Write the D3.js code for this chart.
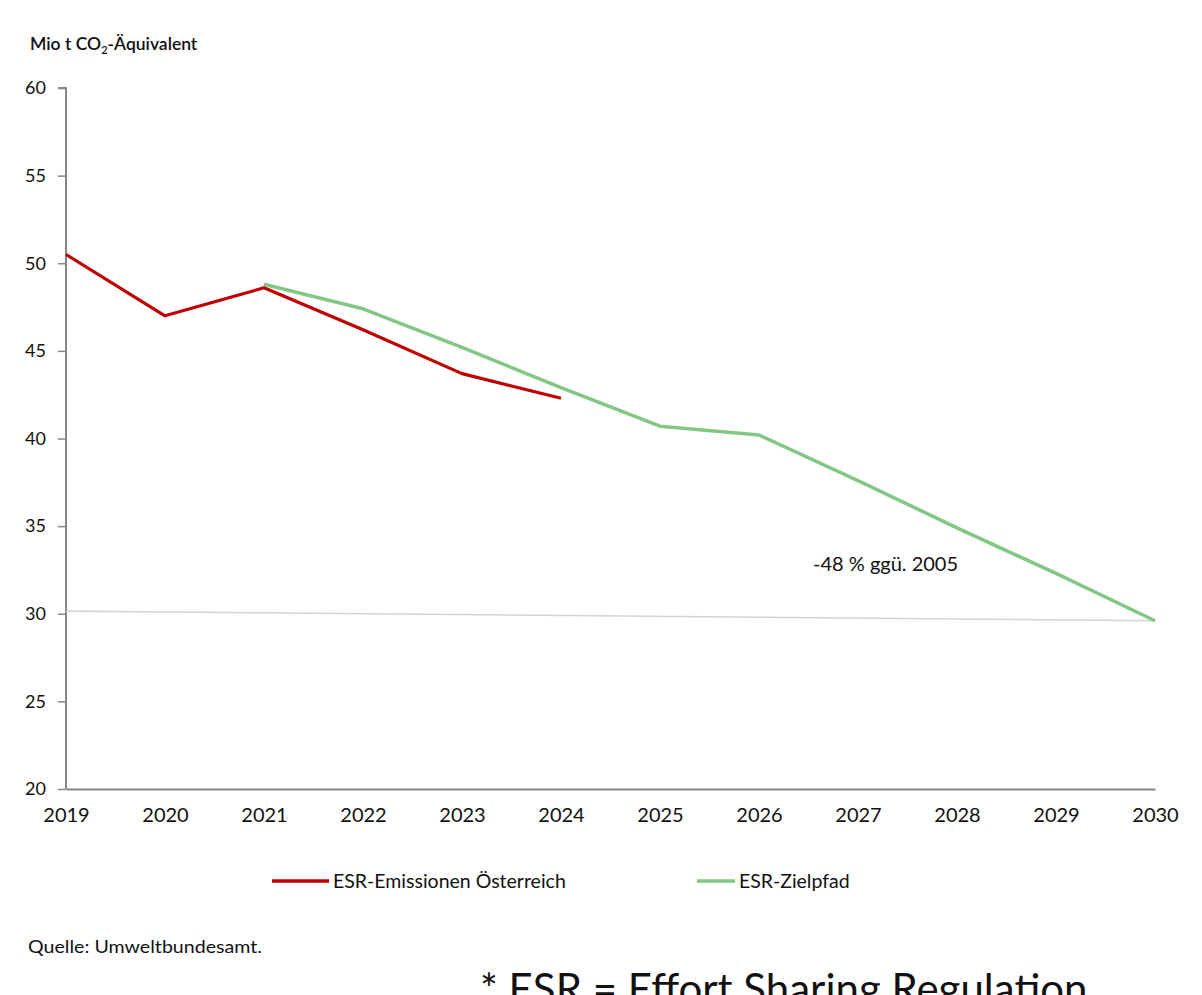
<!DOCTYPE html>
<html>
<head>
<meta charset="utf-8">
<script src="https://cdn.jsdelivr.net/npm/d3@7"></script>
<style>
  html, body { margin: 0; padding: 0; background: #fff; }
  svg { display: block; }
  text { font-family: Lato, "Open Sans", sans-serif; fill: #111; }
</style>
</head>
<body>
<svg id="chart" width="1202" height="995"></svg>
<script>
// Jahre der Zeitachse
const years = [2019, 2020, 2021, 2022, 2023, 2024, 2025, 2026, 2027, 2028, 2029, 2030];
// ESR-Emissionen Österreich (Mio t CO2-Äquivalent)
const emissionYears = [2019, 2020, 2021, 2022, 2023, 2024];
const emissionValues = [50.5, 47.0, 48.6, 46.2, 43.7, 42.3];
// ESR-Zielpfad
const targetYears = [2021, 2022, 2023, 2024, 2025, 2026, 2027, 2028, 2029, 2030];
const targetValues = [48.8, 47.4, 45.2, 42.9, 40.7, 40.2, 37.6, 34.9, 32.3, 29.6];
// Referenzlinie -48 % ggü. 2005
const refYears = [2019, 2030];
const refValues = [30.15, 29.6];
// y-Achse
const yTicks = [20, 25, 30, 35, 40, 45, 50, 55, 60];

const svg = d3.select("#chart");
const plotLeft = 66, plotRight = 1155, plotTop = 88, plotBottom = 789;

const x = d3.scaleLinear().domain([2019, 2030]).range([plotLeft, plotRight]);
const y = d3.scaleLinear().domain([20, 60]).range([plotBottom, plotTop]);

// y-Achse
const yAxis = svg.append("g")
  .attr("transform", `translate(${plotLeft},0)`)
  .call(d3.axisLeft(y).tickValues(yTicks).tickSize(8).tickPadding(12).tickFormat(d3.format("d")));
yAxis.select(".domain").attr("stroke", "#868686").attr("stroke-width", 2).attr("d", `M-8,${plotTop}H0V${plotBottom}`);
yAxis.selectAll(".tick line").attr("stroke", "#868686").attr("stroke-width", 1.5);
yAxis.selectAll(".tick text").attr("font-size", 18).attr("fill", "#111")
  .style("font-family", "Lato, sans-serif");

// x-Achse
const xAxis = svg.append("g")
  .attr("transform", `translate(0,${plotBottom})`)
  .call(d3.axisBottom(x).tickValues(years).tickSize(0).tickPadding(19).tickFormat(d3.format("d")));
xAxis.select(".domain").attr("stroke", "#868686").attr("stroke-width", 2);
xAxis.selectAll(".tick text").attr("font-size", 20).attr("fill", "#111")
  .style("font-family", "Lato, sans-serif");

// Referenzlinie
const line = d3.line().x(d => x(d[0])).y(d => y(d[1]));
svg.append("path")
  .datum(refYears.map((yr, i) => [yr, refValues[i]]))
  .attr("d", line)
  .attr("fill", "none")
  .attr("stroke", "#d4d4d4")
  .attr("stroke-width", 1.6);

// Zielpfad
const green = "#82c884";
const red = "#c00000";
svg.append("path")
  .datum(targetYears.map((yr, i) => [yr, targetValues[i]]))
  .attr("d", line)
  .attr("fill", "none")
  .attr("stroke", green)
  .attr("stroke-width", 3.5)
  .attr("stroke-linejoin", "round");

// Emissionen
svg.append("path")
  .datum(emissionYears.map((yr, i) => [yr, emissionValues[i]]))
  .attr("d", line)
  .attr("fill", "none")
  .attr("stroke", red)
  .attr("stroke-width", 3.2)
  .attr("stroke-linejoin", "round");

// Achsentitel
const title = svg.append("text").attr("x", 30).attr("y", 50).attr("font-size", 17.5).attr("font-weight", 600);
title.append("tspan").text("Mio t CO");
title.append("tspan").attr("font-size", 11).attr("dy", 4).text("2");
title.append("tspan").attr("dy", -4).text("-Äquivalent");

// Beschriftung Zielwert
svg.append("text").attr("x", 813).attr("y", 571).attr("font-size", 20).text("-48 % ggü. 2005");

// Legende
const legend = [
  { label: "ESR-Emissionen Österreich", color: red, x0: 272, x1: 329 },
  { label: "ESR-Zielpfad", color: green, x0: 697, x1: 735 }
];
legend.forEach(d => {
  svg.append("line").attr("x1", d.x0).attr("x2", d.x1).attr("y1", 881).attr("y2", 881)
    .attr("stroke", d.color).attr("stroke-width", 3.5);
  svg.append("text").attr("x", d.x1 + 4).attr("y", 888).attr("font-size", 19.5).text(d.label);
});

// Quelle
svg.append("text").attr("x", 28).attr("y", 953).attr("font-size", 17)
  .attr("textLength", 234).attr("lengthAdjust", "spacingAndGlyphs")
  .text("Quelle: Umweltbundesamt.");

// Fußnote
svg.append("text").attr("x", 480).attr("y", 1004).attr("font-size", 42).text("* ESR = Effort Sharing Regulation");
</script>
</body>
</html>
